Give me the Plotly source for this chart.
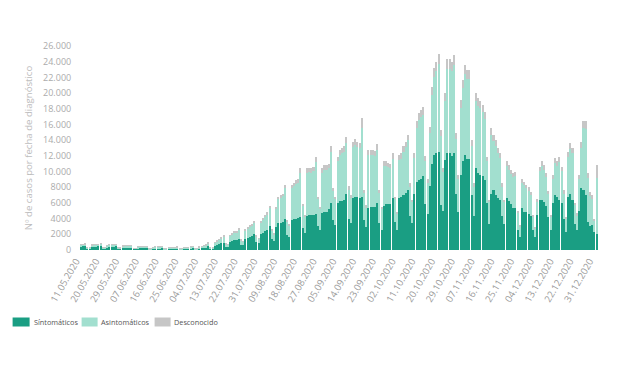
import pandas as pd
import plotly.graph_objects as go

start_date = "2020-05-11"

sintomaticos = [
    440, 470, 480, 200, 180, 400, 430,
    440, 460, 490, 200, 170, 380, 420,
    430, 440, 450, 180, 160, 320, 340,
    340, 350, 360, 150, 130, 250, 280,
    280, 290, 300, 120, 110, 230, 240,
    240, 250, 260, 110, 95, 200, 215,
    210, 220, 230, 95, 90, 190, 210,
    220, 240, 260, 105, 100, 230, 260,
    320, 370, 500, 210, 180, 550, 650,
    760, 830, 950, 430, 370, 1000, 1100,
    1250, 1300, 1450, 700, 600, 1400, 1550,
    1700, 1800, 2100, 1000, 850, 2000, 2200,
    2400, 2500, 3000, 1400, 1150, 2900, 3500,
    3500, 3600, 4000, 1900, 1700, 3800, 3900,
    4000, 4100, 4200, 2800, 2200, 4300, 4400,
    4400, 4500, 4600, 3000, 2600, 4700, 4800,
    4900, 5200, 6000, 3800, 3200, 6000, 6200,
    6200, 6400, 7200, 4000, 3500, 6600, 6800,
    6700, 6600, 6700, 3800, 2900, 5400, 5500,
    5500, 5500, 6000, 3500, 2600, 5600, 5800,
    5800, 5800, 6600, 3600, 2600, 6600, 6800,
    7000, 7300, 7700, 4300, 3400, 7200, 8700,
    8900, 9100, 9400, 5800, 4600, 8200, 11000,
    12100, 12300, 12500, 5700, 5000, 11500, 12300,
    12300, 12000, 12300, 7200, 4800, 9600, 11300,
    12100, 11600, 11600, 7000, 4300, 10400, 9800,
    9600, 9400, 8900, 6000, 3300, 7200, 7600,
    7000, 6600, 6400, 4300, 3300, 6600, 6200,
    5800, 5400, 5300, 2600, 1700, 5300, 4900,
    4800, 4600, 4300, 2600, 1700, 4500, 6400,
    6400, 6100, 5600, 4200, 2500, 6000, 7000,
    6800, 6400, 6000, 4000, 2300, 6800, 7200,
    6400, 3300, 2600, 5000, 7900, 7700, 7000,
    3600, 3000, 3200, 2300, 2100,
]

asintomaticos = [
    250, 260, 270, 115, 105, 225, 240,
    250, 270, 275, 105, 100, 215, 230,
    240, 250, 260, 105, 90, 180, 195,
    200, 205, 215, 90, 80, 150, 160,
    170, 170, 180, 70, 60, 135, 145,
    145, 150, 160, 60, 60, 115, 130,
    135, 145, 150, 60, 55, 125, 135,
    145, 160, 170, 65, 60, 150, 180,
    215, 250, 360, 150, 135, 400, 490,
    580, 650, 770, 330, 300, 810, 900,
    950, 990, 1220, 540, 450, 1080, 1220,
    1250, 1340, 1420, 710, 580, 1520, 1700,
    1880, 2060, 2300, 1070, 850, 2320, 2950,
    3150, 3220, 3850, 1700, 1430, 4080, 4250,
    4450, 4450, 5650, 2800, 2070, 5550, 5550,
    5450, 5550, 6650, 3450, 2620, 5150, 5440,
    5340, 5220, 6500, 3700, 3250, 5300, 5850,
    6150, 6120, 6450, 3700, 3150, 6500, 6580,
    6400, 6400, 8800, 3500, 2500, 6650, 6550,
    6550, 6450, 6800, 3800, 2620, 5120, 4920,
    4740, 4640, 5060, 2850, 2050, 4880, 4860,
    5540, 5810, 6260, 3780, 2680, 4480, 6880,
    7630, 7800, 7850, 5600, 3950, 6700, 8750,
    9950, 10500, 11200, 8800, 4980, 7500, 10750,
    10750, 10800, 11300, 6950, 4220, 8550, 9300,
    10300, 10250, 10200, 6300, 3770, 8600, 8600,
    8450, 8150, 7800, 5300, 2780, 7500, 6350,
    6300, 5750, 5280, 3770, 2780, 4100, 4040,
    3880, 3900, 4180, 2140, 1330, 3240, 3350,
    3070, 2980, 2700, 1660, 1050, 1660, 3640,
    4300, 4130, 3680, 2900, 1760, 3100, 4080,
    3900, 4870, 4040, 3200, 1680, 5040, 5680,
    5900, 2380, 1850, 4000, 5150, 7800, 8450,
    5600, 3900, 3300, 1400, 7100,
]

desconocido = [
    30, 30, 30, 15, 15, 25, 30,
    30, 30, 35, 15, 10, 25, 30,
    30, 30, 30, 15, 10, 20, 25,
    20, 25, 25, 10, 10, 20, 20,
    20, 20, 20, 10, 10, 15, 15,
    15, 20, 20, 10, 5, 15, 15,
    15, 15, 20, 5, 5, 15, 15,
    15, 20, 20, 10, 10, 20, 20,
    25, 30, 40, 20, 15, 50, 60,
    60, 70, 80, 40, 30, 90, 100,
    100, 110, 130, 60, 50, 120, 130,
    150, 160, 180, 90, 70, 180, 200,
    220, 240, 300, 130, 100, 280, 350,
    350, 380, 450, 200, 170, 420, 450,
    450, 450, 550, 300, 230, 550, 550,
    550, 550, 650, 350, 280, 550, 560,
    560, 580, 700, 400, 350, 600, 650,
    650, 680, 750, 400, 350, 700, 720,
    700, 700, 1300, 400, 300, 650, 650,
    650, 650, 700, 400, 280, 580, 580,
    560, 560, 640, 350, 250, 620, 640,
    660, 690, 740, 420, 320, 620, 820,
    870, 900, 950, 600, 450, 800, 1050,
    1150, 1200, 1300, 800, 520, 1000, 1250,
    1250, 1200, 1300, 750, 480, 950, 1100,
    1200, 1150, 1200, 700, 430, 1000, 1000,
    950, 950, 900, 600, 320, 800, 750,
    700, 650, 620, 430, 320, 600, 560,
    520, 500, 520, 260, 170, 460, 450,
    430, 420, 400, 240, 150, 340, 560,
    600, 570, 520, 400, 240, 500, 620,
    600, 630, 560, 400, 220, 660, 720,
    700, 320, 250, 500, 750, 900, 950,
    600, 500, 500, 300, 1600,
]

series_names = ["Síntomáticos", "Asintomáticos", "Desconocido"]
series_colors = ["#1a9e83", "#a2dfcf", "#c6c6c6"]

fechas = pd.date_range(start_date, periods=len(sintomaticos), freq="D")

y_tickvals = list(range(0, 26001, 2000))
y_ticktext = ["0", "2000", "4000", "6000", "8000", "10.000", "12.000", "14.000",
              "16.000", "18.000", "20.000", "22.000", "24.000", "26.000"]

# figure geometry (page body adds an 8px offset)
W, H = 612, 360
ML, MR, MT, MB = 72.4, 21.6, 38, 118
PW, PH = W - ML - MR, H - MT - MB
OFF = 8


def px(x):
    return (x - OFF - ML) / PW


def py(y):
    return (H - MB - (y - OFF)) / PH


fig = go.Figure()
for vals, name, col in zip([sintomaticos, asintomaticos, desconocido], series_names, series_colors):
    fig.add_trace(go.Bar(x=fechas, y=vals, name=name,
                         marker=dict(color=col, line=dict(width=0))))

x0 = fechas[0] - pd.Timedelta(hours=12)
x1 = fechas[-1] + pd.Timedelta(hours=12)

# custom legend
legend_items = [(13, 30, 32), (82, 98, 99), (155, 171, 172)]
shapes, annotations = [], []
for (sx0, sx1, tx), name, col in zip(legend_items, series_names, series_colors):
    shapes.append(dict(type="rect", xref="paper", yref="paper",
                       x0=px(sx0), x1=px(sx1), y0=py(326.5), y1=py(317.5),
                       fillcolor=col, line=dict(width=0)))
    annotations.append(dict(xref="paper", yref="paper", x=px(tx), y=py(322),
                            xanchor="left", yanchor="middle", showarrow=False,
                            text=name, font=dict(size=7.3, color="#555555")))

fig.update_layout(
    width=W, height=H,
    margin=dict(l=ML, r=MR, t=MT, b=MB, autoexpand=False),
    barmode="stack", bargap=0.3,
    paper_bgcolor="white", plot_bgcolor="white",
    font=dict(family="Open Sans, sans-serif", size=10, color="#999999"),
    showlegend=False,
    shapes=shapes, annotations=annotations,
    xaxis=dict(
        type="date", range=[x0, x1],
        tick0=start_date, dtick=9 * 86400000, tickformat="%d.%m.%Y",
        tickangle=-60, tickfont=dict(size=9.5, color="#9a9a9a"),
        ticklabelshift=-5,
        showgrid=False, zeroline=False, showline=False,
        ticks="outside", ticklen=1, tickcolor="rgba(0,0,0,0)",
    ),
    yaxis=dict(
        range=[0, 26000], tickvals=y_tickvals, ticktext=y_ticktext,
        tickfont=dict(size=9, color="#ababab"),
        showgrid=False, zeroline=False, showline=False,
        ticks="outside", ticklen=6, tickcolor="rgba(0,0,0,0)",
        title=dict(text="Nº de casos por fecha de diagnóstico",
                   font=dict(size=9.6, color="#bdbdbd"), standoff=8),
    ),
)

fig.write_html("out.html")
